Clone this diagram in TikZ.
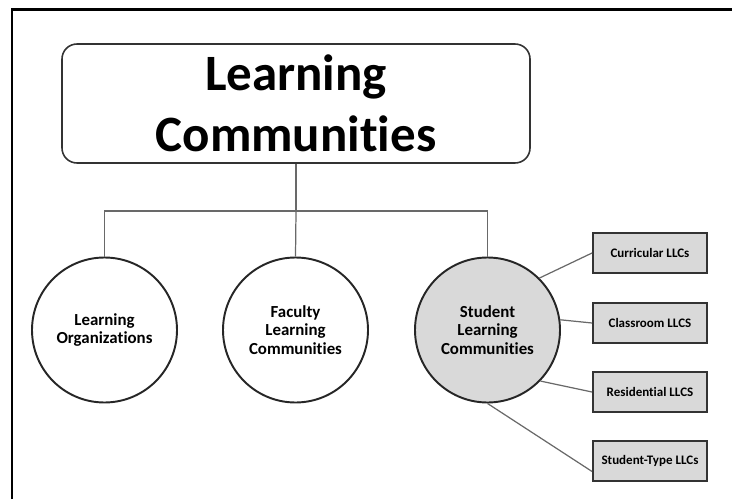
\documentclass[tikz,border=0pt]{standalone}
\usepackage{fontspec}
\setmainfont[Ligatures=NoCommon]{Carlito}
\usetikzlibrary{calc}

\definecolor{linegray}{RGB}{105,105,105}
\definecolor{fillgray}{RGB}{217,217,217}

\tikzset{
  circ/.style={circle, draw=black!85, line width=1.1pt, minimum size=2.9cm,
    align=center, font=\fontsize{9.6}{10.4}\selectfont\bfseries},
  llc/.style={draw=black!80, line width=1.1pt, fill=fillgray,
    minimum width=2.28cm, minimum height=0.8cm,
    font=\fontsize{7.4}{9}\selectfont\bfseries},
  conn/.style={linegray, line width=0.7pt}
}

\begin{document}
\begin{tikzpicture}
\useasboundingbox (0,0) rectangle (14.64,9.98);

\draw [line width=1.7pt] (0.24,0) -- (0.24,9.79) -- (14.64,9.79);

\node [draw=black!80, line width=0.9pt, rounded corners=0.3cm,
  minimum width=9.36cm, minimum height=2.38cm, align=center,
  font=\fontsize{29}{35}\selectfont\bfseries] (lc) at (5.92,7.91) {Learning\\Communities};

\node [circ] (lo) at (2.09,3.38) {Learning\\Organizations};
\node [circ] (flc) at (5.91,3.38) {Faculty\\Learning\\Communities};
\node [circ, fill=fillgray] (slc) at (9.75,3.38) {Student\\Learning\\Communities};

\node [llc] (curr) at (13.0,4.92) {Curricular LLCs};
\node [llc] (class) at (13.0,3.52) {Classroom LLCS};
\node [llc] (resid) at (13.0,2.14) {Residential LLCS};
\node [llc] (stype) at (13.0,0.76) {Student-Type LLCs};

\coordinate (bus) at (5.92,5.76);
\draw [conn] (lc.south) -- (bus);
\draw [conn] (flc.north) -- (bus);
\draw [conn] (lo.north) |- (bus) -| (slc.north);

\draw [conn] (slc.45) -- (curr.west);
\draw [conn] (slc.8) -- (class.west);
\draw [conn] (slc.-44) -- (resid.west);
\draw [conn] (slc.south) -- ($(stype.west)!0.5!(stype.south west)$);
\end{tikzpicture}
\end{document}
